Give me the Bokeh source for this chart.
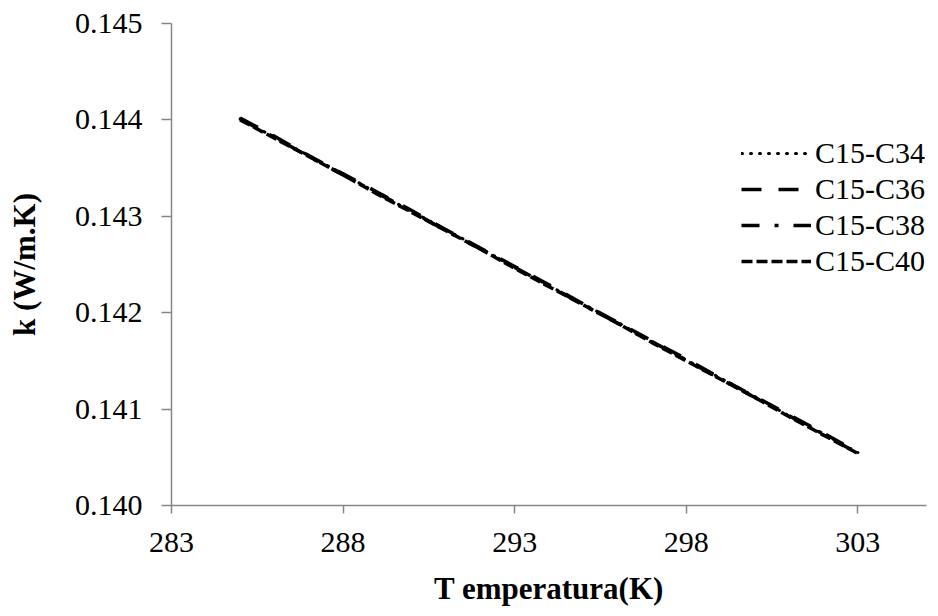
from bokeh.plotting import figure
from bokeh.models import FixedTicker, Range1d, Legend, LegendItem, NumeralTickFormatter
from bokeh.embed import file_html
from bokeh.resources import INLINE

# Data
T = [285, 286, 287, 288, 289, 290, 291, 292, 293, 294, 295, 296, 297, 298, 299, 300, 301, 302, 303]
k_c34 = [0.14401, 0.14382, 0.14363, 0.14344, 0.14324, 0.14305, 0.14286, 0.14267, 0.14247, 0.14228,
         0.14209, 0.14190, 0.14170, 0.14151, 0.14132, 0.14113, 0.14093, 0.14074, 0.14055]
k_c36 = [0.14402, 0.14383, 0.14363, 0.14344, 0.14325, 0.14306, 0.14286, 0.14267, 0.14248, 0.14229,
         0.14209, 0.14190, 0.14171, 0.14152, 0.14132, 0.14113, 0.14094, 0.14075, 0.14055]
k_c38 = [0.14401, 0.14382, 0.14362, 0.14343, 0.14324, 0.14305, 0.14285, 0.14266, 0.14247, 0.14228,
         0.14208, 0.14189, 0.14170, 0.14151, 0.14131, 0.14112, 0.14093, 0.14074, 0.14054]
k_c40 = [0.14400, 0.14381, 0.14362, 0.14343, 0.14323, 0.14304, 0.14285, 0.14266, 0.14246, 0.14227,
         0.14208, 0.14189, 0.14169, 0.14150, 0.14131, 0.14112, 0.14092, 0.14073, 0.14054]
series_names = ["C15-C34", "C15-C36", "C15-C38", "C15-C40"]
x_ticks = [283, 288, 293, 298, 303]
y_ticks = [0.140, 0.141, 0.142, 0.143, 0.144, 0.145]

FONT = "Liberation Serif"
AXIS_COLOR = "#868686"

p = figure(width=930, height=608, output_backend="svg", toolbar_location=None,
           x_range=Range1d(283, 305), y_range=Range1d(0.140, 0.145),
           min_border_left=171, min_border_right=4, min_border_top=23, min_border_bottom=90)
p.outline_line_color = None
p.grid.visible = False
p.background_fill_color = "white"
p.border_fill_color = "white"

styles = [
    dict(line_dash="1 8", line_cap="round", line_width=3),
    dict(line_dash="20 17", line_cap="butt", line_width=3.5),
    dict(line_dash="18 15 4 15", line_cap="butt", line_width=3.5),
    dict(line_dash="11 4", line_cap="butt", line_width=3.5),
]
renderers = []
for ys, st in zip([k_c34, k_c36, k_c38, k_c40], styles):
    r = p.line(T, ys, line_color="black", **st)
    renderers.append(r)

legend = Legend(items=[LegendItem(label=n, renderers=[r]) for n, r in zip(series_names, renderers)],
                location=(570, 227), border_line_color=None, background_fill_alpha=0,
                padding=0, margin=0, spacing=2, glyph_width=70, glyph_height=34,
                label_standoff=4, label_text_font=FONT, label_text_font_size="30px",
                label_text_color="black", label_height=34)
p.add_layout(legend, "center")

for ax in (p.xaxis[0], p.yaxis[0]):
    ax.axis_line_color = AXIS_COLOR
    ax.axis_line_width = 1.5
    ax.major_tick_line_color = AXIS_COLOR
    ax.major_tick_line_width = 1.5
    ax.major_tick_in = 0
    ax.minor_tick_line_color = None
    ax.major_label_text_font = FONT
    ax.major_label_text_font_size = "30px"
    ax.major_label_text_color = "black"
    ax.axis_label_text_font = FONT
    ax.axis_label_text_font_size = "31px"
    ax.axis_label_text_font_style = "bold"
    ax.axis_label_text_color = "black"

p.xaxis.ticker = FixedTicker(ticks=x_ticks)
p.xaxis.major_tick_out = 8
p.xaxis.major_label_standoff = 19
p.xaxis.axis_label = "T emperatura(K)"
p.xaxis.axis_label_standoff = 16

p.yaxis.ticker = FixedTicker(ticks=y_ticks)
p.yaxis.formatter = NumeralTickFormatter(format="0.000")
p.yaxis.major_tick_out = 10
p.yaxis.major_label_standoff = 19
p.yaxis.axis_label = "k (W/m.K)"
p.yaxis.axis_label_standoff = 30

open("out.html", "w").write(file_html(p, INLINE))
